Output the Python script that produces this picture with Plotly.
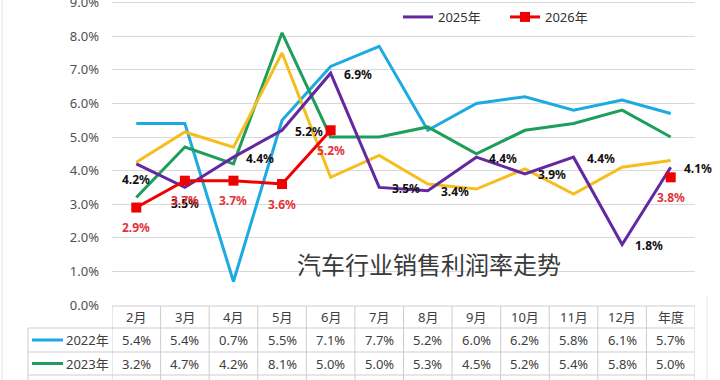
import plotly.graph_objects as go

# ---------------- data ----------------
categories = ["2月", "3月", "4月", "5月", "6月", "7月", "8月", "9月", "10月", "11月", "12月", "年度"]
y2022 = [5.4, 5.4, 0.7, 5.5, 7.1, 7.7, 5.2, 6.0, 6.2, 5.8, 6.1, 5.7]
y2023 = [3.2, 4.7, 4.2, 8.1, 5.0, 5.0, 5.3, 4.5, 5.2, 5.4, 5.8, 5.0]
y2024 = [4.25, 5.15, 4.7, 7.5, 3.8, 4.45, 3.6, 3.45, 4.05, 3.3, 4.1, 4.3]
y2025 = [4.2, 3.5, 4.4, 5.2, 6.9, 3.5, 3.4, 4.4, 3.9, 4.4, 1.8, 4.1]
y2026 = [2.9, 3.7, 3.7, 3.6, 5.2, None, None, None, None, None, None, 3.8]
yticks = [0, 1, 2, 3, 4, 5, 6, 7, 8, 9]
title_text = "汽车行业销售利润率走势"
table_rows = [("2022年", y2022), ("2023年", y2023)]

# ---------------- style ----------------
C22, C23, C24, C25, C26 = "#1CAAE2", "#1E9E5A", "#F5BE1E", "#6428A0", "#F00000"
LABEL_RED = "#E3333A"
FONT = "Noto Sans, Noto Sans CJK SC, sans-serif"
L, R, PLOT_BOTTOM, W, H = 112, 695, 305, 720, 380
PX_PER_UNIT = 33.6
YTOP = PLOT_BOTTOM / PX_PER_UNIT

def px2x(px):
    return (px - L) / (R - L)

def py2y(py):
    return (PLOT_BOTTOM - py) / PLOT_BOTTOM

fig = go.Figure()
for name, ys, col in [("2022年", y2022, C22), ("2023年", y2023, C23), ("2024年", y2024, C24)]:
    fig.add_trace(go.Scatter(x=categories, y=ys, mode="lines", name=name,
                             line=dict(color=col, width=3), showlegend=False))
fig.add_trace(go.Scatter(x=categories, y=y2025, mode="lines", name="2025年",
                         line=dict(color=C25, width=3)))
fig.add_trace(go.Scatter(x=categories, y=y2026, mode="lines+markers", name="2026年",
                         line=dict(color=C26, width=3),
                         marker=dict(symbol="square", size=10, color=C26),
                         connectgaps=False))

ann = []
# 2025 labels
pos25 = ["b", "b", "r", "r", "r", "r", "r", "r", "r", "r", "r", "r"]
for c, v, p in zip(categories, y2025, pos25):
    if p == "b":
        ann.append(dict(x=c, y=v, xref="x", yref="y", text=f"{v:.1f}%", showarrow=False,
                        xanchor="center", yanchor="middle", yshift=-16,
                        font=dict(family=FONT, size=12, color="#111111", weight="bold")))
    else:
        ann.append(dict(x=c, y=v, xref="x", yref="y", text=f"{v:.1f}%", showarrow=False,
                        xanchor="left", yanchor="middle", xshift=11, yshift=-1,
                        font=dict(family=FONT, size=12, color="#111111", weight="bold")))
# 2026 labels
for c, v in zip(categories, y2026):
    if v is None:
        continue
    ann.append(dict(x=c, y=v, xref="x", yref="y", text=f"{v:.1f}%", showarrow=False,
                    xanchor="center", yanchor="middle", yshift=-20,
                    font=dict(family=FONT, size=12, color=LABEL_RED, weight="bold")))

# chart title inside plot
ann.append(dict(x=px2x(429), y=py2y(263), xref="paper", yref="paper", text=title_text,
                showarrow=False, xanchor="center", yanchor="middle",
                font=dict(family="Noto Sans CJK SC", size=24, color="#3A3A3A")))

shapes = []
GRID_C = "#CDCDCD"
row_tops = [306, 328, 352, 375, 399]
# horizontal table lines
shapes.append(dict(type="line", xref="paper", yref="paper", x0=0, x1=1,
                   y0=py2y(row_tops[0]), y1=py2y(row_tops[0]), line=dict(color=GRID_C, width=1)))
for t in row_tops[1:]:
    shapes.append(dict(type="line", xref="paper", yref="paper", x0=px2x(28), x1=1,
                       y0=py2y(t), y1=py2y(t), line=dict(color=GRID_C, width=1)))
# vertical table lines at category boundaries
for i in range(len(categories) + 1):
    shapes.append(dict(type="line", xref="x", yref="paper", x0=i - 0.5, x1=i - 0.5,
                       y0=py2y(row_tops[0]), y1=py2y(400), line=dict(color=GRID_C, width=1)))
shapes.append(dict(type="line", xref="paper", yref="paper", x0=px2x(28), x1=px2x(28),
                   y0=py2y(row_tops[1]), y1=py2y(400), line=dict(color=GRID_C, width=1)))
# faint outer border
shapes.append(dict(type="line", xref="paper", yref="paper", x0=px2x(2), x1=px2x(2),
                   y0=py2y(0), y1=py2y(380), line=dict(color="#E4E4E4", width=1)))
shapes.append(dict(type="line", xref="paper", yref="paper", x0=px2x(707), x1=px2x(707),
                   y0=py2y(296), y1=py2y(380), line=dict(color="#E8E8E8", width=1)))

TBL_FONT = dict(family=FONT, size=13, color="#404040")
# header
for c in categories:
    ann.append(dict(x=c, y=py2y(317), xref="x", yref="paper", text=c, showarrow=False,
                    xanchor="center", yanchor="middle", font=TBL_FONT))
# rows
key_cols = [C22, C23]
for r, ((lab, vals), kc) in enumerate(zip(table_rows, key_cols)):
    cy = (row_tops[r + 1] + row_tops[r + 2]) / 2
    shapes.append(dict(type="line", xref="paper", yref="paper", x0=px2x(32), x1=px2x(63),
                       y0=py2y(cy), y1=py2y(cy), line=dict(color=kc, width=3)))
    ann.append(dict(x=px2x(64), y=py2y(cy), xref="paper", yref="paper", text=lab,
                    showarrow=False, xanchor="left", yanchor="middle", font=TBL_FONT))
    for c, v in zip(categories, vals):
        ann.append(dict(x=c, y=py2y(cy), xref="x", yref="paper", text=f"{v:.1f}%",
                        showarrow=False, xanchor="center", yanchor="middle", font=TBL_FONT))

fig.update_layout(
    width=W, height=H,
    margin=dict(l=L, r=W - R, t=0, b=H - PLOT_BOTTOM, pad=0, autoexpand=False),
    paper_bgcolor="white", plot_bgcolor="white",
    font=dict(family=FONT, color="#404040"),
    xaxis=dict(type="category", range=[-0.5, len(categories) - 0.5], showticklabels=False,
               showgrid=False, zeroline=False, showline=False, ticks="", automargin=False),
    yaxis=dict(range=[0, YTOP], tickvals=yticks, ticktext=[f"{t:.1f}%" for t in yticks],
               showgrid=True, gridcolor="#D9D9D9", gridwidth=1, zeroline=False,
               showline=False, ticks="", ticklabelstandoff=12, ticklabeloverflow="allow",
               automargin=False,
               tickfont=dict(family=FONT, size=13, color="#505050")),
    legend=dict(orientation="h", x=px2x(398), y=py2y(2), xanchor="left", yanchor="top",
                bgcolor="rgba(255,255,255,0)", font=dict(family=FONT, size=13, color="#333333"),
                itemwidth=30, entrywidthmode="pixels", entrywidth=62,
                traceorder="normal"),
    annotations=ann,
    shapes=shapes,
)

fig.write_html("out.html")
